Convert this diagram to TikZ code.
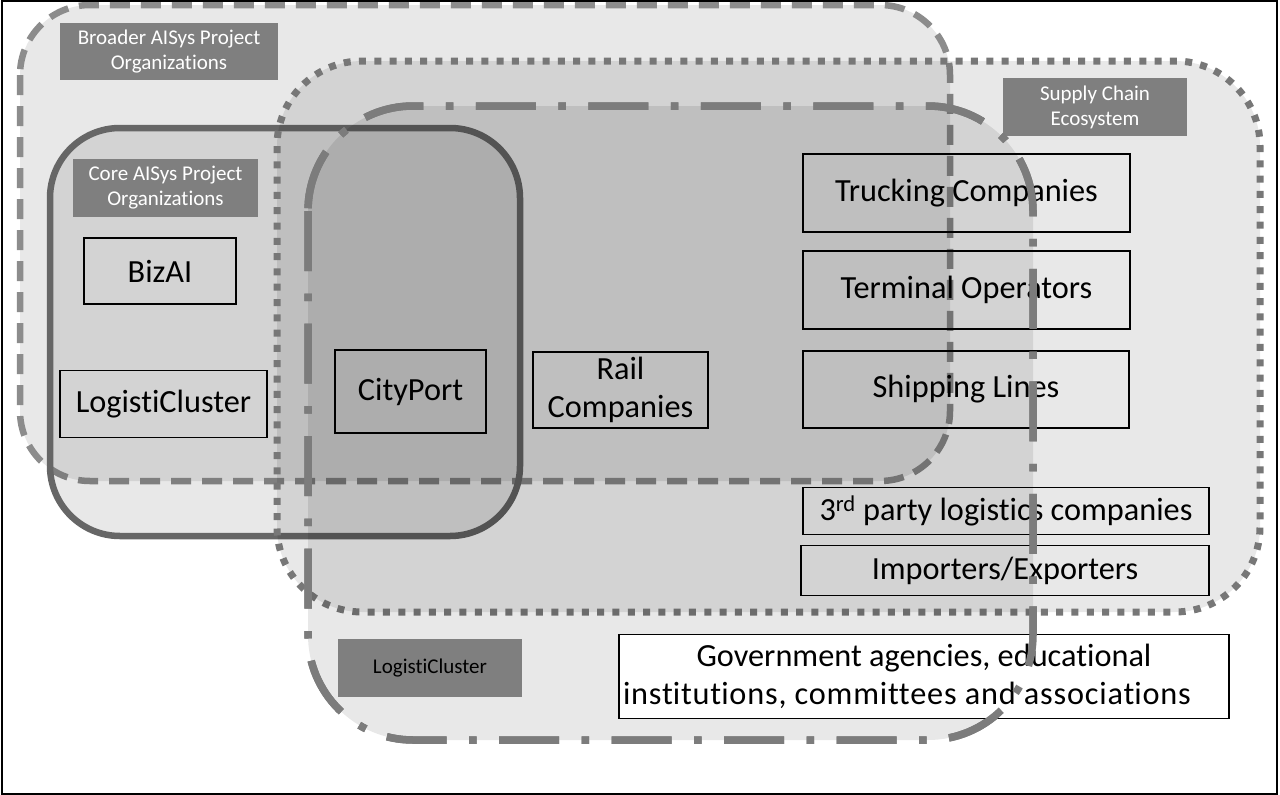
\documentclass[tikz,border=0pt]{standalone}
\usepackage{fontspec}
\setmainfont{Carlito}[Ligatures={NoCommon,NoContextual,NoRare,NoHistoric}, Contextuals=NoAlternate]
\newfontfamily\govwide{Carlito}[LetterSpace=2.5]
\newcommand{\Tk}{\kern0pt}
\definecolor{cBroad}{HTML}{8C8C8C}
\definecolor{cSupply}{HTML}{777777}
\definecolor{cLogi}{HTML}{7C7C7C}
\definecolor{cCore}{HTML}{666666}
\definecolor{cLabel}{HTML}{7F7F7F}
\begin{document}
\begin{tikzpicture}[x=1pt,y=-1pt,
  shapefill/.style={fill=black, fill opacity=0.09},
  broadline/.style={draw=cBroad, line width=6.5pt, dash pattern=on 20pt off 11pt, rounded corners=70pt},
  supplyline/.style={draw=cSupply, line width=7pt, dash pattern=on 7pt off 8.3pt, rounded corners=85pt},
  logiline/.style={draw=cLogi, line width=7.5pt, dash pattern=on 60pt off 22.5pt on 7.5pt off 22.5pt, rounded corners=105pt},
  coreline/.style={draw=cCore, line width=6.5pt, rounded corners=70pt},
  lbl/.style={fill=cLabel, text=white, inner sep=0pt, align=center, font=\fontsize{21}{25}\selectfont},
  tbox/.style={draw=black, line width=1.3pt, inner sep=0pt, align=center, font=\fontsize{32.3}{38}\selectfont}
]
\useasboundingbox (0,0) rectangle (1280,795);
\fill[white] (0,0) rectangle (1280,795);

% overlapping regions
\path[shapefill, broadline] (20,5) rectangle (950,481);
\path[shapefill, coreline] (50,128) rectangle (520,536);
\path[shapefill, supplyline] (277,61) rectangle (1260,612);
\path[shapefill, logiline] (308,106) rectangle (1033,740);

% labels
\node[lbl, minimum width=218pt, minimum height=57pt] (broaderlbl) at (169,51.5) {Broader AISys Project\\Organizat\Tk ions};
\node[lbl, minimum width=185pt, minimum height=58pt] (corelbl) at (165.5,188) {Core AISys Project\\Organizat\Tk ions};
\node[lbl, minimum width=184pt, minimum height=58pt] (supplylbl) at (1095,107) {Supply Chain\\Ecosystem};
\node[lbl, text=black, minimum width=184pt, minimum height=58pt] (logilbl) at (430,668) {Logist\Tk iCluster};

% organisations
\node[tbox, minimum width=152pt, minimum height=66pt] (bizai) at (160,271) {BizAI};
\node[tbox, minimum width=207pt, minimum height=67pt] (logi) at (163.5,404) {Logist\Tk iCluster};
\node[tbox, minimum width=151pt, minimum height=83pt] (cityport) at (410.5,391.5) {CityPort};
\node[tbox, minimum width=175pt, minimum height=76pt] (rail) at (620.5,390) {Rail\\Companies};
\node[tbox, minimum width=327pt, minimum height=78pt] (trucking) at (966.5,193) {Trucking Companies};
\node[tbox, minimum width=327pt, minimum height=78pt] (terminal) at (966.5,290) {Terminal Operators};
\node[tbox, minimum width=326pt, minimum height=77pt] (shipping) at (966,389.5) {Shipping Lines};
\node[tbox, minimum width=406pt, minimum height=47pt] (thirdparty) at (1006,511) {3\textsuperscript{rd} party logist\Tk ics companies};
\node[tbox, minimum width=408pt, minimum height=50pt] (importers) at (1005,570.5) {Importers/Exporters};
\node[tbox, fill=white, minimum width=610pt, minimum height=84pt] (gov) at (924,676.5) {Government agencies, educat\Tk ional\\{\govwide inst\Tk itut\Tk ions, commit\Tk tees and associat\Tk ions}\hspace*{34pt}};

% dash-dot outline passes over the white box
\path[logiline] (308,106) rectangle (1033,740);

% frame
\draw[line width=2pt] (1.5,1) rectangle (1277,793.5);
\end{tikzpicture}
\end{document}
